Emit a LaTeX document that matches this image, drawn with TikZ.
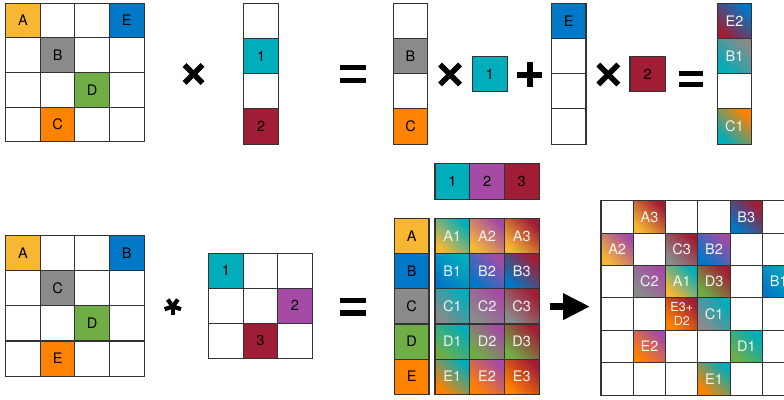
\documentclass[tikz,border=0pt]{standalone}
\usepackage{fontspec}
\setmainfont{TeX Gyre Heros}
\usetikzlibrary{arrows.meta}
\definecolor{cA}{HTML}{F8B733}
\definecolor{cBlue}{HTML}{0078C8}
\definecolor{cGray}{HTML}{8A8A8A}
\definecolor{cGreen}{HTML}{6EAE45}
\definecolor{cOrange}{HTML}{FF8200}
\definecolor{cTeal}{HTML}{00ADBB}
\definecolor{cRed}{HTML}{A11D35}
\definecolor{cPurple}{HTML}{A54BA5}
\definecolor{lineC}{HTML}{333333}
\definecolor{gtext}{HTML}{F2F2F2}
\begin{document}
\begin{tikzpicture}[x=1pt,y=-1pt,
  font=\fontsize{14.5}{16}\selectfont,
  cell/.style 2 args={draw=lineC, line width=1.1pt, inner sep=0pt,
    minimum width=#1pt, minimum height=#2pt, fill=white},
  grad/.style 2 args={bottom color=#1, top color=#2, shading angle=-45, text=gtext},
  opline/.style={line width=5.5pt},
  opfill/.style={fill=black},
]
\useasboundingbox (0,0) rectangle (784,399);
\clip (0,0) rectangle (784,399);

% ---------- top-left matrix ----------
\foreach \i in {0,...,3}{\foreach \j in {0,...,3}{
  \node[cell={34.6}{34.6}] (ma-\i-\j) at ({5.7+(\i+0.5)*34.6},{3.3+(\j+0.5)*34.6}) {};}}
\node[cell={34.6}{34.6}, fill=cA]      (maA) at (ma-0-0) {A};
\node[cell={34.6}{34.6}, fill=cBlue]   (maE) at (ma-3-0) {E};
\node[cell={34.6}{34.6}, fill=cGray]   (maB) at (ma-1-1) {B};
\node[cell={34.6}{34.6}, fill=cGreen]  (maD) at (ma-2-2) {D};
\node[cell={34.6}{34.6}, fill=cOrange] (maC) at (ma-1-3) {C};

% times 1
\coordinate (x1) at (193.5,74);
\draw[opline] ([shift={(-9,-9)}]x1) -- ([shift={(9,9)}]x1);
\draw[opline] ([shift={(-9,9)}]x1) -- ([shift={(9,-9)}]x1);

% vector
\foreach \j in {0,...,3}{
  \node[cell={35}{35.2}] (va-\j) at (261.2,{3.3+(\j+0.5)*35.2}) {};}
\node[cell={35}{35.2}, fill=cTeal] (va1) at (va-1) {1};
\node[cell={35}{35.2}, fill=cRed]  (va2) at (va-3) {2};

% equals 1
\coordinate (e1) at (352.8,74);
\fill ([shift={(-12.8,-9)}]e1) rectangle ([shift={(12.8,-4)}]e1);
\fill ([shift={(-12.8,4)}]e1) rectangle ([shift={(12.8,9)}]e1);

% column B C
\foreach \j in {0,...,3}{
  \node[cell={34.4}{35.2}] (cb-\j) at (410.5,{3.3+(\j+0.5)*35.2}) {};}
\node[cell={34.4}{35.2}, fill=cGray]   (cbB) at (cb-1) {B};
\node[cell={34.4}{35.2}, fill=cOrange] (cbC) at (cb-3) {C};

% times 2
\coordinate (x2) at (450,74.5);
\draw[opline] ([shift={(-10,-10)}]x2) -- ([shift={(10,10)}]x2);
\draw[opline] ([shift={(-10,10)}]x2) -- ([shift={(10,-10)}]x2);

\node[cell={35.4}{34.6}, fill=cTeal] (k1) at (490,74) {1};

% plus
\coordinate (p1) at (529.8,74.5);
\fill ([shift={(-12.5,-3)}]p1) rectangle ([shift={(12.5,3)}]p1);
\fill ([shift={(-3,-12.8)}]p1) rectangle ([shift={(3,12.8)}]p1);

% column E
\foreach \j in {0,...,3}{
  \node[cell={34.3}{35.2}] (ce-\j) at (568.8,{3.3+(\j+0.5)*35.2}) {};}
\node[cell={34.3}{35.2}, fill=cBlue] (ceE) at (ce-0) {E};

% times 3
\coordinate (x3) at (608.3,74.5);
\draw[opline] ([shift={(-10,-10)}]x3) -- ([shift={(10,10)}]x3);
\draw[opline] ([shift={(-10,10)}]x3) -- ([shift={(10,-10)}]x3);

\node[cell={35.3}{34.6}, fill=cRed] (k2) at (647.6,74) {2};

% equals 2
\coordinate (e2) at (691,79);
\fill ([shift={(-12.2,-8)}]e2) rectangle ([shift={(12.2,-3)}]e2);
\fill ([shift={(-12.2,3)}]e2) rectangle ([shift={(12.2,8)}]e2);

% result column
\foreach \j in {0,...,3}{
  \node[cell={34.4}{35.2}] (cr-\j) at (734.5,{3.3+(\j+0.5)*35.2}) {};}
\node[cell={34.4}{35.2}, grad={cRed}{cBlue}]    (crE2) at (cr-0) {E2};
\node[cell={34.4}{35.2}, grad={cTeal}{cGray}]   (crB1) at (cr-1) {B1};
\node[cell={34.4}{35.2}, grad={cTeal}{cOrange}] (crC1) at (cr-3) {C1};

% ---------- bottom-left matrix ----------
\foreach \i in {0,...,3}{\foreach \j in {0,...,3}{
  \node[cell={34.6}{35.1}] (mb-\i-\j) at ({5.7+(\i+0.5)*34.6},{235.7+(\j+0.5)*35.1}) {};}}
\node[cell={34.6}{35.1}, fill=cA]      (mbA) at (mb-0-0) {A};
\node[cell={34.6}{35.1}, fill=cBlue]   (mbB) at (mb-3-0) {B};
\node[cell={34.6}{35.1}, fill=cGray]   (mbC) at (mb-1-1) {C};
\node[cell={34.6}{35.1}, fill=cGreen]  (mbD) at (mb-2-2) {D};
\node[cell={34.6}{35.1}, fill=cOrange] (mbE) at (mb-1-3) {E};

% asterisk
\coordinate (ast) at (172.8,306.5);
\foreach \a in {90,18,162,-54,-126}{
  \draw[line width=4.2pt] (ast) -- ([shift={(\a:8.6)}]ast);}

% kernel
\foreach \i in {0,...,2}{\foreach \j in {0,...,2}{
  \node[cell={34.5}{35}] (kk-\i-\j) at ({208.7+(\i+0.5)*34.5},{253.3+(\j+0.5)*35}) {};}}
\node[cell={34.5}{35}, fill=cTeal]   (kk1) at (kk-0-0) {1};
\node[cell={34.5}{35}, fill=cPurple] (kk2) at (kk-2-1) {2};
\node[cell={34.5}{35}, fill=cRed]    (kk3) at (kk-1-2) {3};

% equals 3
\coordinate (e3) at (352.8,307);
\fill ([shift={(-12.8,-8.7)}]e3) rectangle ([shift={(12.8,-3.7)}]e3);
\fill ([shift={(-12.8,3)}]e3) rectangle ([shift={(12.8,8.7)}]e3);

% number row
\node[cell={34.7}{35.7}, fill=cTeal]   (t1) at ({435+0.5*34.7},181.2) {1};
\node[cell={34.7}{35.7}, fill=cPurple] (t2) at ({435+1.5*34.7},181.2) {2};
\node[cell={34.7}{35.7}, fill=cRed]    (t3) at ({435+2.5*34.7},181.2) {3};

% letter column and product grid
\foreach \L/\c [count=\j from 0] in {A/cA,B/cBlue,C/cGray,D/cGreen,E/cOrange}{
  \node[cell={34.7}{35.1}, fill=\c] (l\L) at ({394.3+0.5*34.7},{218.7+(\j+0.5)*35.1}) {\L};
  \foreach \n/\d [count=\i from 0] in {1/cTeal,2/cPurple,3/cRed}{
    \node[cell={34.7}{35.1}, grad={\c}{\d}] (p\L\n) at ({435+(\i+0.5)*34.7},{218.7+(\j+0.5)*35.1}) {\L\n};}}

% arrow
\coordinate (arS) at (550,306.6);
\coordinate (arE) at (590,306.6);
\draw[line width=6.7pt, -{Triangle[length=27pt,width=25pt]}] (arS) -- (arE);

% ---------- bottom-right grid ----------
\foreach \i in {0,...,5}{\foreach \j in {0,...,5}{
  \node[cell={32.3}{32.4}] (r-\i-\j) at ({601+(\i+0.5)*32.3},{200.7+(\j+0.5)*32.4}) {};}}
\node[cell={32.3}{32.4}, grad={cA}{cRed}]       (rA3) at (r-1-0) {A3};
\node[cell={32.3}{32.4}, grad={cBlue}{cRed}]    (rB3) at (r-4-0) {B3};
\node[cell={32.3}{32.4}, grad={cA}{cPurple}]    (rA2) at (r-0-1) {A2};
\node[cell={32.3}{32.4}, grad={cGray}{cRed}]    (rC3) at (r-2-1) {C3};
\node[cell={32.3}{32.4}, grad={cBlue}{cPurple}] (rB2) at (r-3-1) {B2};
\node[cell={32.3}{32.4}, grad={cGray}{cPurple}] (rC2) at (r-1-2) {C2};
\node[cell={32.3}{32.4}, grad={cA}{cTeal}]      (rA1) at (r-2-2) {A1};
\node[cell={32.3}{32.4}, grad={cGreen}{cRed}]   (rD3) at (r-3-2) {D3};
\node[cell={32.3}{32.4}, grad={cBlue}{cTeal}]   (rB1) at (r-5-2) {B1};
\node[cell={32.3}{32.4}, grad={cOrange}{cRed}, align=center,
      font=\fontsize{12.5}{13.5}\selectfont]     (rE3) at (r-2-3) {E3+\\D2};
\node[cell={32.3}{32.4}, grad={cGray}{cTeal}]   (rC1) at (r-3-3) {C1};
\node[cell={32.3}{32.4}, grad={cOrange}{cPurple}] (rE2) at (r-1-4) {E2};
\node[cell={32.3}{32.4}, grad={cGreen}{cTeal}]  (rD1) at (r-4-4) {D1};
\node[cell={32.3}{32.4}, grad={cOrange}{cTeal}] (rE1) at (r-3-5) {E1};
\end{tikzpicture}
\end{document}
